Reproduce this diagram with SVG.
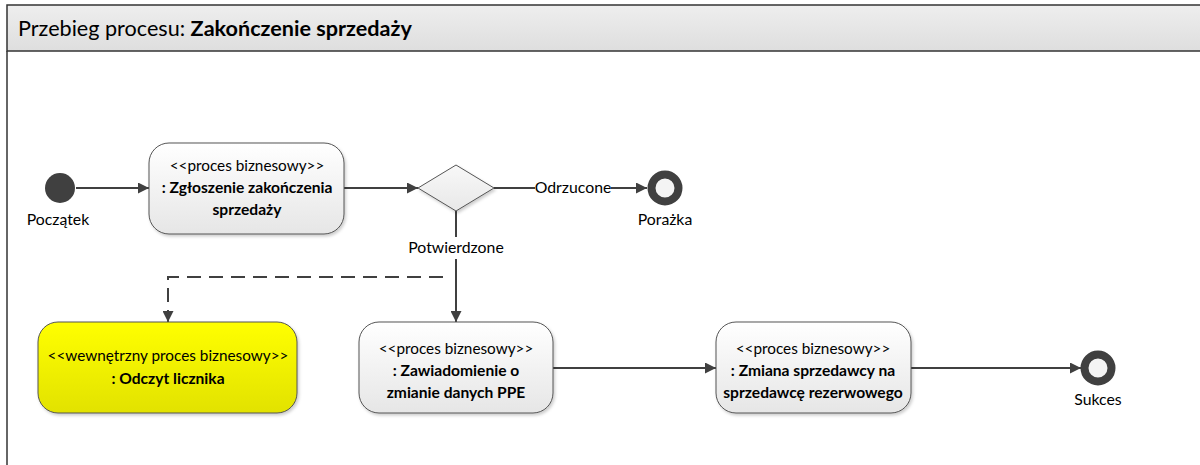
<svg xmlns="http://www.w3.org/2000/svg" width="1200" height="465" viewBox="0 0 1200 465">
<defs>
<linearGradient id="hdr" x1="0" y1="0" x2="0" y2="1"><stop offset="0" stop-color="#eeeeee"/><stop offset="1" stop-color="#dedede"/></linearGradient>
<linearGradient id="box" x1="0" y1="0" x2="0" y2="1"><stop offset="0" stop-color="#ffffff"/><stop offset="1" stop-color="#e6e6e6"/></linearGradient>
<linearGradient id="yel" x1="0" y1="0" x2="0" y2="1"><stop offset="0" stop-color="#ffff00"/><stop offset="1" stop-color="#e2e200"/></linearGradient>
<linearGradient id="dia" x1="0" y1="0" x2="0" y2="1"><stop offset="0" stop-color="#f8f8f8"/><stop offset="1" stop-color="#e8e8e8"/></linearGradient>
<marker id="arr" viewBox="0 0 10 10" refX="10" refY="5" markerWidth="11" markerHeight="11" markerUnits="userSpaceOnUse" orient="auto"><path d="M0,0 L10,5 L0,10 Z" fill="#404040"/></marker>
<filter id="sh" x="-10%" y="-10%" width="120%" height="130%"><feDropShadow dx="1.5" dy="2" stdDeviation="1.5" flood-color="#000" flood-opacity="0.2"/></filter>
</defs>
<style>
text{font-family:Lato,"Liberation Sans",sans-serif;fill:#000}
.st{font-size:15.3px;text-anchor:middle}
.b{font-size:15.6px;font-weight:bold;text-anchor:middle}
.lbl{font-size:15.8px;text-anchor:middle}
.node{stroke:#555;stroke-width:1;filter:url(#sh)}
.con{stroke:#404040;stroke-width:2;fill:none}
.dash{stroke-dasharray:14,8}
</style>
<g id="frame">
<rect x="7" y="5" width="1200" height="46" fill="url(#hdr)" stroke="#333" stroke-width="1.5"/>
<line x1="7" y1="51" x2="7" y2="465" stroke="#333" stroke-width="1.5"/>
<text x="18" y="36" font-size="21.6">Przebieg procesu: <tspan font-weight="bold">Zakończenie sprzedaży</tspan></text>
</g>
<g id="connectors">
<line class="con" x1="76" y1="188" x2="149" y2="188" marker-end="url(#arr)"/>
<line class="con" x1="344" y1="188" x2="418" y2="188" marker-end="url(#arr)"/>
<line class="con" x1="494" y1="188" x2="647" y2="188" marker-end="url(#arr)"/>
<rect x="535" y="178" width="76" height="20" fill="#fff"/>
<text class="lbl" x="573" y="193">Odrzucone</text>
<line class="con" x1="456" y1="211" x2="456" y2="322" marker-end="url(#arr)"/>
<rect x="406" y="237" width="100" height="22" fill="#fff"/>
<text class="lbl" x="456" y="253">Potwierdzone</text>
<polyline class="con dash" points="443,277 168,277 168,322" marker-end="url(#arr)"/>
<line class="con" x1="553" y1="368" x2="716" y2="368" marker-end="url(#arr)"/>
<line class="con" x1="911" y1="368" x2="1081" y2="368" marker-end="url(#arr)"/>
</g>
<g id="start">
<circle cx="60" cy="188" r="15" fill="#404040"/>
<text class="lbl" x="58" y="225">Początek</text>
</g>
<g id="n1">
<rect class="node" x="149" y="143" width="195" height="91" rx="20" fill="url(#box)"/>
<text class="st" x="247" y="171">&lt;&lt;proces biznesowy&gt;&gt;</text>
<text class="b" x="247" y="193">: Zgłoszenie zakończenia</text>
<text class="b" x="247" y="215">sprzedaży</text>
</g>
<g id="decision">
<polygon class="node" points="418,188 456,165 494,188 456,211" fill="url(#dia)"/>
</g>
<g id="porazka">
<circle cx="665" cy="188" r="13.5" fill="#f4f4f4" stroke="#404040" stroke-width="8"/>
<text class="lbl" x="665" y="225">Porażka</text>
</g>
<g id="n_odczyt">
<rect class="node" x="38" y="322" width="259" height="91" rx="20" fill="url(#yel)"/>
<text class="st" x="168" y="361">&lt;&lt;wewnętrzny proces biznesowy&gt;&gt;</text>
<text class="b" x="168" y="384">: Odczyt licznika</text>
</g>
<g id="n_ppe">
<rect class="node" x="359" y="322" width="194" height="91" rx="20" fill="url(#box)"/>
<text class="st" x="456" y="354">&lt;&lt;proces biznesowy&gt;&gt;</text>
<text class="b" x="456" y="376">: Zawiadomienie o</text>
<text class="b" x="456" y="398">zmianie danych PPE</text>
</g>
<g id="n_zmiana">
<rect class="node" x="716" y="322" width="195" height="91" rx="20" fill="url(#box)"/>
<text class="st" x="813" y="354">&lt;&lt;proces biznesowy&gt;&gt;</text>
<text class="b" x="813" y="376">: Zmiana sprzedawcy na</text>
<text class="b" x="813" y="398">sprzedawcę rezerwowego</text>
</g>
<g id="sukces">
<circle cx="1098" cy="368" r="13.5" fill="#f4f4f4" stroke="#404040" stroke-width="8"/>
<text class="lbl" x="1098" y="405">Sukces</text>
</g>
</svg>
